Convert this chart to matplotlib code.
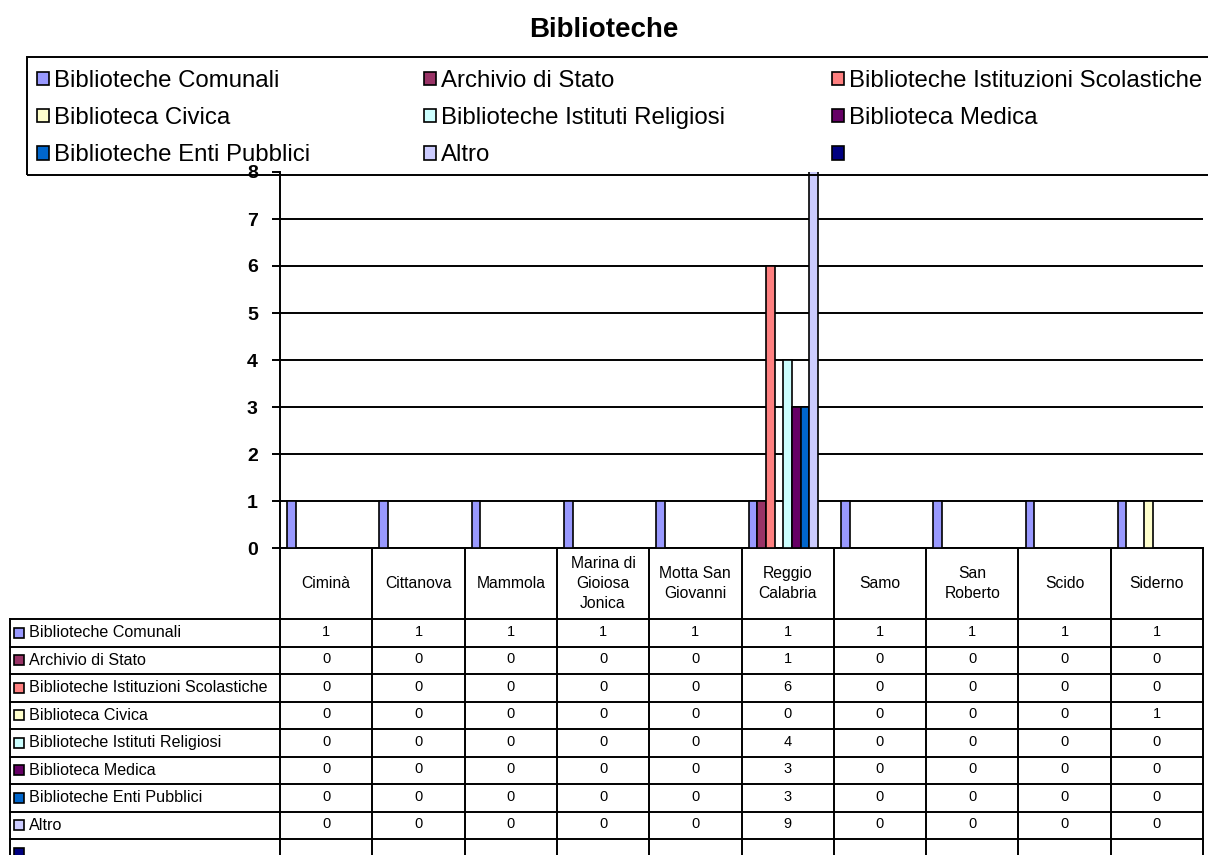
import numpy as np
import matplotlib
matplotlib.use("Agg")
import matplotlib.pyplot as plt
from matplotlib.patches import Patch, Rectangle

plt.rcParams["font.family"] = ["Liberation Sans", "DejaVu Sans"]

comuni = ["Ciminà", "Cittanova", "Mammola", "Marina di\nGioiosa\nJonica", "Motta San\nGiovanni",
          "Reggio\nCalabria", "Samo", "San\nRoberto", "Scido", "Siderno"]

serie = ["Biblioteche Comunali", "Archivio di Stato", "Biblioteche Istituzioni Scolastiche",
         "Biblioteca Civica", "Biblioteche Istituti Religiosi", "Biblioteca Medica",
         "Biblioteche Enti Pubblici", "Altro", ""]

comunali = [1, 1, 1, 1, 1, 1, 1, 1, 1, 1]
archivio = [0, 0, 0, 0, 0, 1, 0, 0, 0, 0]
scolastiche = [0, 0, 0, 0, 0, 6, 0, 0, 0, 0]
civica = [0, 0, 0, 0, 0, 0, 0, 0, 0, 1]
religiosi = [0, 0, 0, 0, 0, 4, 0, 0, 0, 0]
medica = [0, 0, 0, 0, 0, 3, 0, 0, 0, 0]
enti = [0, 0, 0, 0, 0, 3, 0, 0, 0, 0]
altro = [0, 0, 0, 0, 0, 9, 0, 0, 0, 0]
vuota = [None] * 10

valori = [comunali, archivio, scolastiche, civica, religiosi, medica, enti, altro, vuota]
colori = ["#9999FF", "#993366", "#FF8080", "#FFFFCC", "#CCFFFF", "#660066", "#0066CC", "#CCCCFF", "#000080"]

W, H = 1208, 855
fig = plt.figure(figsize=(W / 100, H / 100), dpi=100)

# area del grafico
ax = fig.add_axes([280 / W, 1 - 548 / H, 923 / W, 376 / H])
x = np.arange(len(comuni))
larg = 0.094
for i, (vals, col) in enumerate(zip(valori, colori)):
    if all(v is None for v in vals):
        continue
    ax.bar(x + (i - 4) * larg, vals, larg, color=col, edgecolor="black", linewidth=1.2, zorder=3)

ax.set_xlim(-0.5, 9.5)
ax.set_ylim(0, 8)
ax.set_yticks(range(9))
ax.set_xticks([])
ax.yaxis.grid(True, color="black", linewidth=1.4)
ax.set_axisbelow(True)
ax.yaxis.get_gridlines()[-1].set_visible(False)
for s in ["top", "right"]:
    ax.spines[s].set_visible(False)
for s in ["left", "bottom"]:
    ax.spines[s].set_linewidth(1.4)
ax.tick_params(axis="y", direction="out", length=6, width=1.4, pad=10, labelsize=14)
for t in ax.get_yticklabels():
    t.set_fontweight("bold")

fig.text(604 / W, 1 - 30 / H, "Biblioteche", ha="center", va="center", fontsize=20, fontweight="bold")

# tabella dei dati
tax = fig.add_axes([280 / W, 0, 923 / W, 307 / H], sharex=ax)
tax.set_ylim(307, 0)
tax.axis("off")
sinistra = -0.5 - 270 / 92.3
riga0 = 71
hriga = 27.5
lw = 1.4
for b in np.arange(-0.5, 10.5, 1):
    tax.plot([b, b], [0, 307], color="black", lw=lw, clip_on=False)
tax.plot([sinistra, sinistra], [riga0, 307], color="black", lw=lw, clip_on=False)
for k in range(len(serie)):
    y = riga0 + hriga * k
    tax.plot([sinistra, 9.5], [y, y], color="black", lw=lw, clip_on=False)

for j, nome in enumerate(comuni):
    tax.text(j, riga0 / 2, nome, ha="center", va="center", fontsize=11.3, linespacing=1.4)

for k, (nome, vals, col) in enumerate(zip(serie, valori, colori)):
    yc = riga0 + hriga * k + hriga / 2
    tax.plot([sinistra + 9 / 92.3], [yc], marker="s", markersize=6.5, color=col,
             markeredgecolor="black", markeredgewidth=1.2, clip_on=False)
    tax.text(sinistra + 19 / 92.3, yc, nome, ha="left", va="center", fontsize=11.6, clip_on=False)
    for j, v in enumerate(vals):
        if v is not None:
            tax.text(j, yc - 1, str(v), ha="center", va="center", fontsize=10.5)

# legenda su tre colonne
fig.add_artist(Rectangle((27 / W, 1 - 175 / H), 1300 / W, 118 / H, transform=fig.transFigure,
                         facecolor="none", edgecolor="black", lw=1.4, zorder=10))
maniglie = [Patch(facecolor=c, edgecolor="black", lw=1.2) for c in colori]
for c, xc in enumerate([37, 424, 832]):
    idx = [c, c + 3, c + 6]
    fig.legend([maniglie[i] for i in idx], [serie[i] for i in idx], loc="upper left",
               bbox_to_anchor=(xc / W, 1 - 70 / H), frameon=False, fontsize=17.3,
               handlelength=0.5, handleheight=0.5, handletextpad=0.2, labelspacing=0.63,
               borderpad=0, borderaxespad=0)

fig.savefig("out.png", dpi=100)
